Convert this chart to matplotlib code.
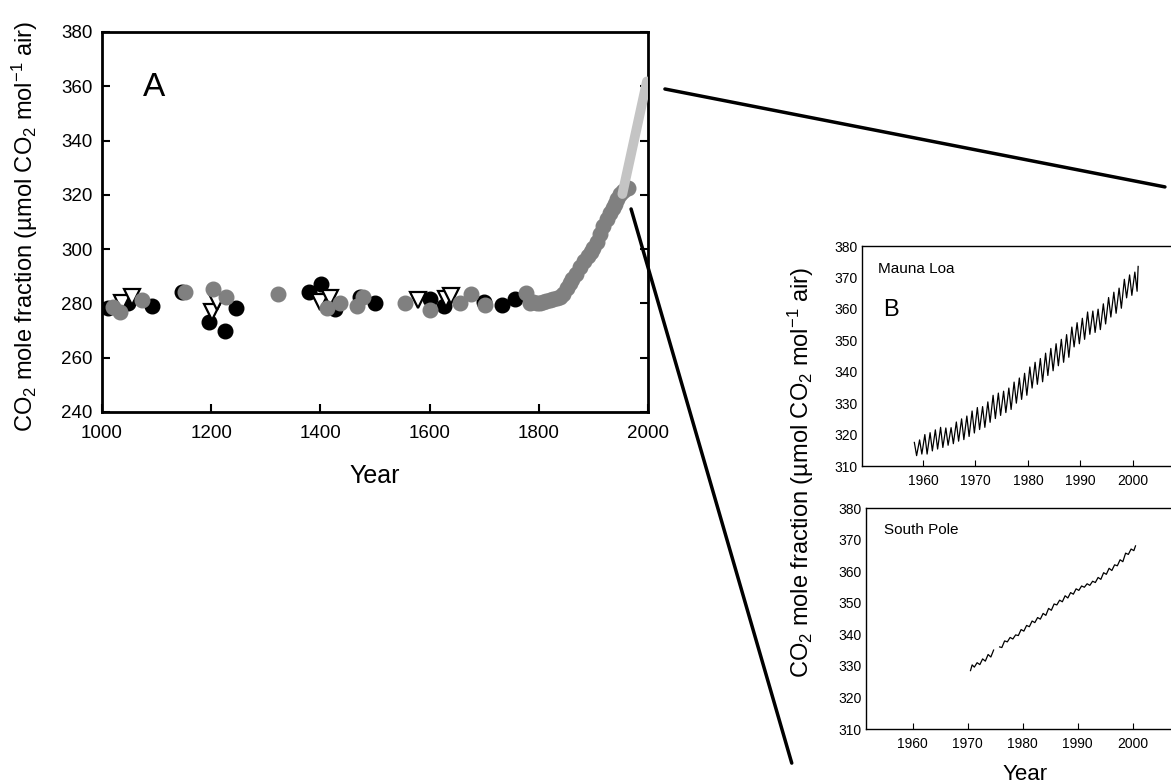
import numpy as np
import matplotlib
matplotlib.use("Agg")
import matplotlib.pyplot as plt
from matplotlib.patches import ConnectionPatch

plt.rcParams['font.family'] = ['Liberation Sans', 'DejaVu Sans']
plt.rcParams['mathtext.default'] = 'regular'

# ---- panel A: ice core records ----
black_year = [1011, 1048, 1091, 1146, 1196, 1225, 1245, 1379, 1401, 1427, 1473, 1500,
              1601, 1626, 1700, 1733, 1756]
black_co2 = [278.3, 280.0, 279.0, 284.2, 273.1, 269.8, 278.3, 284.2, 287.1, 278.0, 282.4, 280.0,
             281.6, 279.0, 280.5, 279.3, 281.6]

tri_year = [1037, 1055, 1201, 1210, 1399, 1418, 1579, 1630, 1640]
tri_co2 = [280.0, 282.4, 276.9, 280.5, 280.5, 282.0, 281.3, 281.8, 282.6]

grey_year = [1020, 1033, 1073, 1152, 1203, 1227, 1322, 1412, 1436, 1467, 1478, 1555, 1601,
             1656, 1676, 1701, 1776, 1784, 1790, 1796, 1802, 1808, 1814, 1820, 1826, 1833,
             1838, 1845, 1852, 1857, 1861, 1868, 1876, 1883, 1891, 1896, 1900, 1906, 1912,
             1918, 1924, 1930, 1935, 1939, 1944, 1948, 1955, 1963]
grey_co2 = [278.7, 276.8, 281.3, 284.2, 285.3, 282.4, 283.5, 278.3, 280.0, 279.0, 282.4, 280.0,
            277.6, 280.0, 283.5, 279.3, 283.8, 280.0, 280.5, 280.2, 280.0, 280.6, 281.0, 281.3,
            281.5, 282.0, 282.5, 283.5, 285.8, 287.5, 288.9, 291.0, 293.3, 295.5, 297.3, 299.0,
            300.5, 302.5, 305.4, 308.5, 311.0, 313.4, 315.0, 316.5, 318.5, 320.2, 321.5, 322.6]

atm_year = [1953, 1998]
atm_co2 = [320.3, 361.8]

# ---- panel B: Mauna Loa, peak (May) and trough (Oct) per year ----
ml_years = list(range(1958, 2001))
ml_peak = [317.5, 318.3, 320.0, 320.6, 321.5, 322.3, 322.1, 322.2, 324.0, 325.0, 325.9, 327.5,
           328.6, 328.9, 330.4, 332.5, 333.2, 333.8, 334.8, 336.7, 338.0, 339.5, 341.5, 343.0,
           344.2, 345.9, 347.4, 348.9, 350.3, 351.8, 354.2, 355.6, 357.0, 359.0, 359.3, 359.9,
           361.6, 363.6, 365.3, 366.6, 369.4, 370.8, 371.7]
ml_trough = [313.3, 313.8, 313.8, 314.8, 315.4, 315.9, 316.6, 317.1, 317.9, 318.4, 319.4, 320.5,
             321.6, 322.3, 323.9, 325.1, 326.1, 327.0, 328.0, 330.0, 331.2, 332.5, 334.8, 336.0,
             336.8, 338.8, 340.3, 341.9, 343.0, 344.6, 347.9, 348.9, 350.3, 351.9, 352.5, 353.4,
             355.2, 357.4, 358.6, 360.2, 363.5, 364.3, 365.6]
ml_last = (2001.0, 373.5)

# ---- South Pole, two record segments ----
sp1_year = [1970.5, 1970.8, 1971.2, 1971.7, 1972.2, 1972.7, 1973.2, 1973.7, 1974.2, 1974.7]
sp1_co2 = [328.5, 330.3, 329.6, 331.0, 330.4, 332.2, 331.5, 333.6, 332.8, 335.0]
sp2_year = [1975.8, 1976.2, 1976.7, 1977.2, 1977.7, 1978.2, 1978.7, 1979.2, 1979.7, 1980.2,
            1980.7, 1981.2, 1981.7, 1982.2, 1982.7, 1983.2, 1983.7, 1984.2, 1984.7, 1985.2,
            1985.7, 1986.2, 1986.7, 1987.2, 1987.7, 1988.2, 1988.7, 1989.2, 1989.7, 1990.2,
            1990.7, 1991.2, 1991.7, 1992.2, 1992.7, 1993.2, 1993.7, 1994.2, 1994.7, 1995.2,
            1995.7, 1996.2, 1996.7, 1997.2, 1997.7, 1998.2, 1998.7, 1999.2, 1999.7, 2000.2,
            2000.5]
sp2_co2 = [336.0, 335.8, 337.9, 337.6, 339.0, 338.5, 339.8, 339.6, 341.5, 341.0,
           342.8, 342.4, 344.2, 343.7, 345.3, 344.8, 346.6, 346.0, 348.2, 347.6,
           349.6, 349.3, 350.8, 350.3, 352.2, 351.5, 353.2, 352.7, 354.4, 353.9,
           355.3, 354.9, 356.0, 355.5, 356.8, 356.4, 358.0, 357.4, 359.5, 359.0,
           360.9, 360.2, 362.0, 361.7, 363.6, 363.0, 365.7, 365.3, 367.0, 366.5,
           368.0]

ylab = 'CO$_2$ mole fraction (µmol CO$_2$ mol$^{-1}$ air)'

W, H = 1171, 784
fig = plt.figure(figsize=(W / 100, H / 100), dpi=100)

def box(l, t, r, b):
    return [l / W, 1 - b / H, (r - l) / W, (b - t) / H]

# ---------------- panel A ----------------
axA = fig.add_axes(box(102, 32, 648, 412))
axA.plot(black_year, black_co2, 'o', color='black', ms=10.5, mec='black', zorder=3)
axA.plot(tri_year, tri_co2, 'v', color='white', ms=11, mec='black', mew=1.6, zorder=4)
axA.plot(grey_year, grey_co2, 'o', color='#808080', ms=10.5, mec='#808080', zorder=5)
axA.plot(atm_year, atm_co2, '-', color='#c4c4c4', lw=7, solid_capstyle='round', zorder=6)
axA.set_xlim(1000, 2000)
axA.set_ylim(240, 380)
axA.set_xticks(range(1000, 2001, 200))
axA.set_yticks(range(240, 381, 20))
for s in axA.spines.values():
    s.set_linewidth(2)
axA.tick_params(direction='in', length=6, width=1.5, labelsize=13.5, right=True)
axA.tick_params(axis='x', pad=9)
axA.tick_params(axis='y', pad=7)
axA.set_xlabel('Year', fontsize=18, labelpad=16)
axA.set_ylabel(ylab, fontsize=17, va='center')
axA.yaxis.set_label_coords(-0.141, 0.489)
axA.text(0.075, 0.855, 'A', transform=axA.transAxes, fontsize=24, va='center')

# ---------------- panel B (Mauna Loa) ----------------
ml_x, ml_y = [], []
for yr, pk, tr in zip(ml_years, ml_peak, ml_trough):
    ml_x += [yr + 0.37, yr + 0.8]
    ml_y += [pk, tr]
ml_x.append(ml_last[0])
ml_y.append(ml_last[1])

axB = fig.add_axes(box(862, 246, 862 + 61.6 * 5.25, 466))
axB.plot(ml_x, ml_y, color='black', lw=0.9)
axB.set_xlim(1948.4, 2010)
axB.set_ylim(310, 380)
axB.set_xticks(range(1960, 2001, 10))
axB.set_yticks(range(310, 381, 10))
axB.text(0.05, 0.895, 'Mauna Loa', transform=axB.transAxes, fontsize=11, va='center')
axB.text(0.065, 0.71, 'B', transform=axB.transAxes, fontsize=17, va='center')

# ---------------- panel B (South Pole) ----------------
axC = fig.add_axes(box(866, 508, 866 + 58.5 * 5.5, 729))
axC.plot(sp1_year, sp1_co2, color='black', lw=0.9)
axC.plot(sp2_year, sp2_co2, color='black', lw=0.9)
axC.set_xlim(1951.5, 2010)
axC.set_ylim(310, 380)
axC.set_xticks(range(1960, 2001, 10))
axC.set_yticks(range(310, 381, 10))
axC.text(0.056, 0.9, 'South Pole', transform=axC.transAxes, fontsize=11, va='center')

for ax in (axB, axC):
    for s in ax.spines.values():
        s.set_linewidth(1)
    ax.tick_params(axis='x', direction='in', length=4, width=0.8, labelsize=10, pad=6)
    ax.tick_params(axis='y', length=0, labelsize=10, pad=3)

fig.text(801 / W, 1 - 472 / H, ylab, rotation=90, fontsize=17, ha='center', va='center')
fig.text(1025 / W, 1 - 774 / H, 'Year', fontsize=16, ha='center', va='center')

# zoom lines from panel A to the insets
for xyA, xyB, axT in [((2031, 359), (2006.1, 398.8), axB),
                      ((1969, 314.8), (1938, 299.2), axC)]:
    con = ConnectionPatch(xyA=xyA, coordsA=axA.transData, xyB=xyB, coordsB=axT.transData,
                          color='black', lw=2.5, clip_on=False)
    fig.add_artist(con)

fig.savefig('out.png', dpi=100)
